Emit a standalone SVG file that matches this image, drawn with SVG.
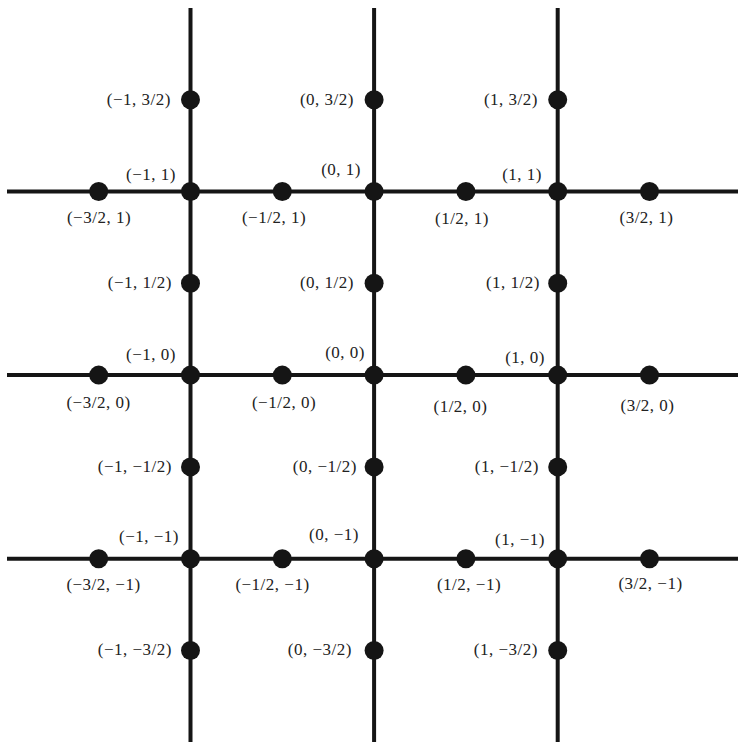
<svg xmlns="http://www.w3.org/2000/svg" width="738" height="742" viewBox="0 0 738 742">
<style>
.ln{stroke:#151515;stroke-width:4;fill:none}
.pt{fill:#151515}
text{font-family:"Liberation Serif","DejaVu Serif",serif;font-size:17px;letter-spacing:0.5px;fill:#222}
.e{text-anchor:end}
.m{text-anchor:middle}
</style>
<rect width="738" height="742" fill="#fff"/>
<g id="connectors">
<line class="ln" x1="190.5" y1="8" x2="190.5" y2="742"/>
<line class="ln" x1="374.1" y1="8" x2="374.1" y2="742"/>
<line class="ln" x1="557.7" y1="8" x2="557.7" y2="742"/>
<line class="ln" x1="7" y1="191.5" x2="738" y2="191.5"/>
<line class="ln" x1="7" y1="375.1" x2="738" y2="375.1"/>
<line class="ln" x1="7" y1="558.7" x2="738" y2="558.7"/>
</g>
<g id="n_m1_3h"><circle class="pt" cx="190.5" cy="99.7" r="9.5"/><text class="e" x="171" y="105">(−1, 3/2)</text></g>
<g id="n_0_3h"><circle class="pt" cx="374.1" cy="99.7" r="9.5"/><text class="e" x="354" y="105">(0, 3/2)</text></g>
<g id="n_1_3h"><circle class="pt" cx="557.7" cy="99.7" r="9.5"/><text class="e" x="538" y="105">(1, 3/2)</text></g>

<g id="n_m1_1"><circle class="pt" cx="190.5" cy="191.5" r="9.5"/><text class="e" x="176" y="180">(−1, 1)</text></g>
<g id="n_0_1"><circle class="pt" cx="374.1" cy="191.5" r="9.5"/><text class="e" x="361" y="175">(0, 1)</text></g>
<g id="n_1_1"><circle class="pt" cx="557.7" cy="191.5" r="9.5"/><text class="e" x="542" y="180">(1, 1)</text></g>
<g id="n_m3h_1"><circle class="pt" cx="98.7" cy="191.5" r="9.5"/><text class="m" x="99" y="223">(−3/2, 1)</text></g>
<g id="n_m1h_1"><circle class="pt" cx="282.3" cy="191.5" r="9.5"/><text class="m" x="274" y="223">(−1/2, 1)</text></g>
<g id="n_1h_1"><circle class="pt" cx="465.9" cy="191.5" r="9.5"/><text class="m" x="462" y="224">(1/2, 1)</text></g>
<g id="n_3h_1"><circle class="pt" cx="649.5" cy="191.5" r="9.5"/><text class="m" x="646.5" y="223">(3/2, 1)</text></g>

<g id="n_m1_1h"><circle class="pt" cx="190.5" cy="283.3" r="9.5"/><text class="e" x="172" y="288">(−1, 1/2)</text></g>
<g id="n_0_1h"><circle class="pt" cx="374.1" cy="283.3" r="9.5"/><text class="e" x="354" y="288">(0, 1/2)</text></g>
<g id="n_1_1h"><circle class="pt" cx="557.7" cy="283.3" r="9.5"/><text class="e" x="540" y="288">(1, 1/2)</text></g>

<g id="n_m1_0"><circle class="pt" cx="190.5" cy="375.1" r="9.5"/><text class="e" x="176" y="360">(−1, 0)</text></g>
<g id="n_0_0"><circle class="pt" cx="374.1" cy="375.1" r="9.5"/><text class="e" x="365" y="358">(0, 0)</text></g>
<g id="n_1_0"><circle class="pt" cx="557.7" cy="375.1" r="9.5"/><text class="e" x="545" y="363">(1, 0)</text></g>
<g id="n_m3h_0"><circle class="pt" cx="98.7" cy="375.1" r="9.5"/><text class="m" x="98.5" y="408">(−3/2, 0)</text></g>
<g id="n_m1h_0"><circle class="pt" cx="282.3" cy="375.1" r="9.5"/><text class="m" x="284" y="408">(−1/2, 0)</text></g>
<g id="n_1h_0"><circle class="pt" cx="465.9" cy="375.1" r="9.5"/><text class="m" x="460.5" y="412">(1/2, 0)</text></g>
<g id="n_3h_0"><circle class="pt" cx="649.5" cy="375.1" r="9.5"/><text class="m" x="647.5" y="411">(3/2, 0)</text></g>

<g id="n_m1_m1h"><circle class="pt" cx="190.5" cy="466.9" r="9.5"/><text class="e" x="172" y="472">(−1, −1/2)</text></g>
<g id="n_0_m1h"><circle class="pt" cx="374.1" cy="466.9" r="9.5"/><text class="e" x="357" y="472">(0, −1/2)</text></g>
<g id="n_1_m1h"><circle class="pt" cx="557.7" cy="466.9" r="9.5"/><text class="e" x="539" y="472">(1, −1/2)</text></g>

<g id="n_m1_m1"><circle class="pt" cx="190.5" cy="558.7" r="9.5"/><text class="e" x="179" y="542">(−1, −1)</text></g>
<g id="n_0_m1"><circle class="pt" cx="374.1" cy="558.7" r="9.5"/><text class="e" x="359" y="540">(0, −1)</text></g>
<g id="n_1_m1"><circle class="pt" cx="557.7" cy="558.7" r="9.5"/><text class="e" x="545" y="545">(1, −1)</text></g>
<g id="n_m3h_m1"><circle class="pt" cx="98.7" cy="558.7" r="9.5"/><text class="m" x="103.5" y="590">(−3/2, −1)</text></g>
<g id="n_m1h_m1"><circle class="pt" cx="282.3" cy="558.7" r="9.5"/><text class="m" x="272.5" y="590">(−1/2, −1)</text></g>
<g id="n_1h_m1"><circle class="pt" cx="465.9" cy="558.7" r="9.5"/><text class="m" x="469" y="590">(1/2, −1)</text></g>
<g id="n_3h_m1"><circle class="pt" cx="649.5" cy="558.7" r="9.5"/><text class="m" x="650.5" y="589">(3/2, −1)</text></g>

<g id="n_m1_m3h"><circle class="pt" cx="190.5" cy="650.5" r="9.5"/><text class="e" x="172" y="655">(−1, −3/2)</text></g>
<g id="n_0_m3h"><circle class="pt" cx="374.1" cy="650.5" r="9.5"/><text class="e" x="352" y="655">(0, −3/2)</text></g>
<g id="n_1_m3h"><circle class="pt" cx="557.7" cy="650.5" r="9.5"/><text class="e" x="538" y="655">(1, −3/2)</text></g>
</svg>
